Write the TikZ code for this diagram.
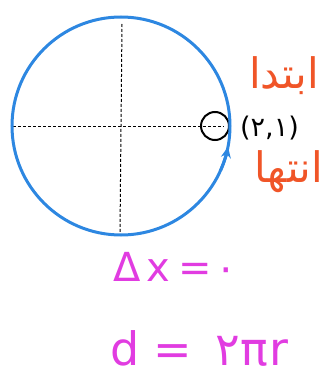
\documentclass[tikz,border=0pt]{standalone}
\usepackage{fontspec}
\usetikzlibrary{arrows.meta}
\TeXXeTstate=1
\newfontfamily\arabicfont[Script=Arabic]{DejaVu Sans}
\newfontfamily\handfont{DejaVu Sans}
\definecolor{cblue}{RGB}{45,135,225}
\definecolor{corange}{RGB}{240,85,40}
\definecolor{cmag}{RGB}{225,60,225}
\tikzset{
  axisline/.style={line width=1pt, dash pattern=on 3pt off 2pt},
  persian/.style={text=corange, font=\arabicfont\fontsize{42}{46}\selectfont, inner sep=0pt},
  formula/.style={text=cmag, inner sep=0pt, anchor=west},
}
\begin{document}
\begin{tikzpicture}[x=1pt,y=-1pt]
\useasboundingbox (0,0) rectangle (331,377);
\coordinate (O) at (121,126);
\coordinate (L) at (13,126);
\coordinate (T) at (122,24);
\coordinate (B) at (120,232);
\node[circle, draw, line width=2pt, minimum size=28pt, inner sep=0pt] (p) at (215,126) {};
\coordinate (pin) at (224,126);
\draw[axisline] (L) -- (pin);
\draw[axisline] (T) -- (B);
\draw[cblue, line width=3pt] (O) circle (109pt);
\draw[cblue, line width=3pt, -{Stealth[length=11pt,width=10pt]}] ([shift={(-24:109pt)}]O) arc[start angle=-24, end angle=-11, radius=109pt];
\node[font=\handfont\fontsize{27}{30}\selectfont, anchor=west, inner sep=0pt] (c) at (240,128) {(۲,۱)};
\node[persian] (start) at (284,76) {\beginR ابتدا\endR};
\node[persian] (end) at (289,172) {\beginR انتها\endR};
\node[formula, font=\handfont\fontsize{40}{44}\selectfont] (dx) at (113,267) {Δ\hspace{6pt}x\hspace{8pt}=\hspace{4pt}۰};
\node[formula, font=\handfont\fontsize{46}{50}\selectfont] (d) at (110,348) {d\hspace{14pt}=\hspace{24pt}۲π\hspace{1pt}r};
\end{tikzpicture}
\end{document}
